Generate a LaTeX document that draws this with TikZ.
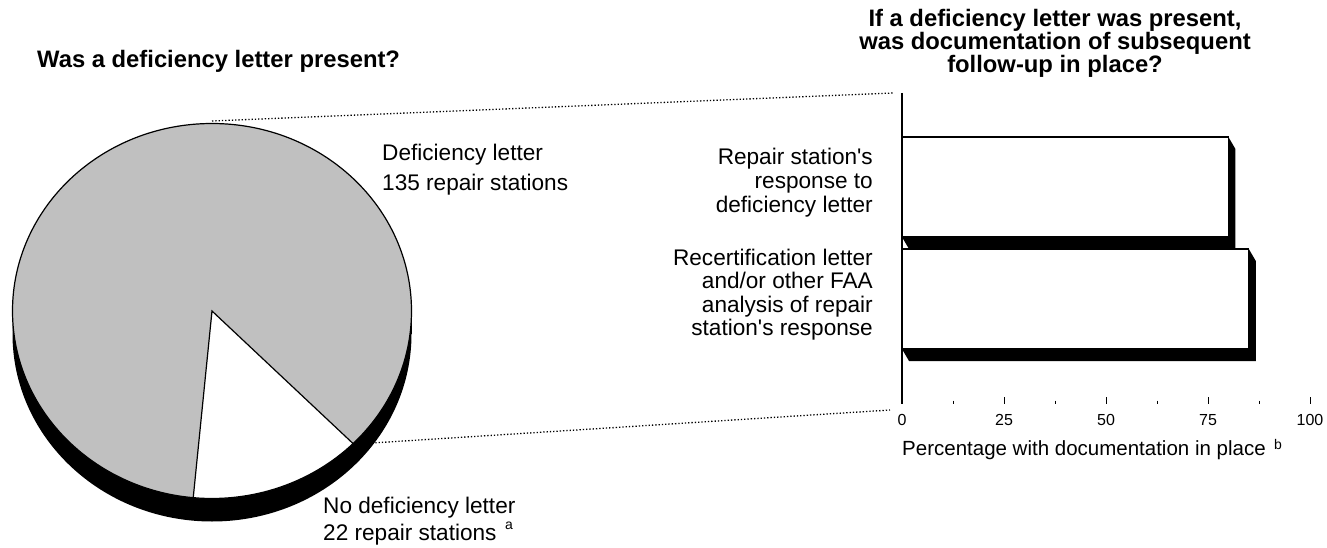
\documentclass[tikz,border=0pt]{standalone}
\usepackage{fontspec}
\setmainfont{Liberation Sans}
\definecolor{piegray}{RGB}{192,192,192}
\newcommand\gbar[3]{%
  \fill[black] (902,#3) -- (909,#3+12) -- ({#1+7},#3+12) -- ({#1+7},#2+12) -- (#1,#2) -- (#1,#3) -- cycle;
  \draw[barbox] (902,#2) rectangle (#1,#3);}
\begin{document}
\begin{tikzpicture}[x=1pt,y=-1pt,
  lbl/.style={font=\fontsize{22.6}{27}\selectfont, inner sep=0},
  ttl/.style={font=\bfseries\fontsize{23.8}{23}\selectfont, inner sep=0},
  ticklbl/.style={font=\fontsize{16}{18}\selectfont, inner sep=0},
  axlbl/.style={font=\fontsize{20.5}{24}\selectfont, inner sep=0},
  suplbl/.style={font=\fontsize{14}{16}\selectfont, inner sep=0},
  dots/.style={line width=1.3pt, dash pattern=on 1.3pt off 2pt},
  barbox/.style={draw, fill=white, line width=1.2pt},
  outl/.style={line width=1.2pt}]
\useasboundingbox (0,0) rectangle (1327,548);

% titles
\node[ttl, anchor=base west] (t1) at (37,68) {Was a deficiency letter present?};
\node[ttl, anchor=base] (t2a) at (1055,27) {If a deficiency letter was present,};
\node[ttl, anchor=base] (t2b) at (1055,50) {was documentation of subsequent};
\node[ttl, anchor=base] (t2c) at (1055,73) {follow-up in place?};

% pie with shadow
\fill[black] (212,334) ellipse [x radius=199.5, y radius=187.5];
\fill[black] (12.5,311) rectangle (411.5,334);
\draw[outl, fill=piegray] (212,311) ellipse [x radius=199.5, y radius=187.5];
\draw[outl, fill=white] (212,311) -- ++(45:199.5 and 187.5)
  arc[start angle=45, end angle=95.4, x radius=199.5, y radius=187.5] -- cycle;

% pie labels
\node[lbl, anchor=base west] (d1) at (382,161) {Deficiency letter};
\node[lbl, anchor=base west] (d2) at (382,190) {135 repair stations};
\node[lbl, anchor=base west] (n1) at (323,513) {No deficiency letter};
\node[lbl, anchor=base west] (n2) at (323,540) {22 repair stations};
\node[suplbl] (na) at (509,526) {a};

% connectors
\coordinate (pieTop) at (212,121);
\coordinate (pieLow) at (372,443);
\coordinate (axTop) at (893,93);
\coordinate (axLow) at (890,410);
\draw[dots] (pieTop) -- (axTop);
\draw[dots] (pieLow) -- (axLow);

% bars
\gbar{1228.4}{137}{237}
\gbar{1248.8}{249}{349}

% axis
\draw[line width=1.3pt] (902,93) -- (902,404);
\foreach \v in {0,25,50,75,100} {
  \draw[line width=1pt] ({902+4.08*\v},397) -- ({902+4.08*\v},404);
  \node[ticklbl] (tk\v) at ({902+4.08*\v},420) {\v};
}
\foreach \v in {12.5,37.5,62.5,87.5}
  \draw[line width=1pt] ({902+4.08*\v},400.5) -- ({902+4.08*\v},404);

\node[axlbl, anchor=base west] (ax) at (902,455) {Percentage with documentation in place};
\node[suplbl] (axb) at (1278,444) {b};

% bar labels
\node[lbl, anchor=base east] (r1) at (873,165) {Repair station\textquotesingle s};
\node[lbl, anchor=base east] (r2) at (873,188.5) {response to};
\node[lbl, anchor=base east] (r3) at (873,212) {deficiency letter};
\node[lbl, anchor=base east] (s1) at (873,265) {Recertification letter};
\node[lbl, anchor=base east] (s2) at (873,288.5) {and/or other FAA};
\node[lbl, anchor=base east] (s3) at (873,312) {analysis of repair};
\node[lbl, anchor=base east] (s4) at (873,335.5) {station\textquotesingle s response};
\end{tikzpicture}
\end{document}
